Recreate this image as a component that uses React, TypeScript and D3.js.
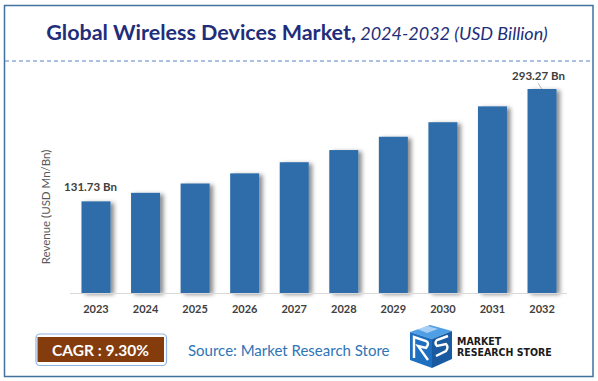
import React from "react";
import * as d3 from "d3";

const years = ["2023", "2024", "2025", "2026", "2027", "2028", "2029", "2030", "2031", "2032"];
const revenue = [131.73, 144.0, 157.4, 172.0, 188.0, 205.5, 224.6, 245.5, 268.3, 293.27];
const labelledYears = ["2023", "2032"];
const labelTexts = ["131.73 Bn", "293.27 Bn"];
const titleBold = "Global Wireless Devices Market,";
const titleItalic = " 2024-2032 (USD Billion)";
const yAxisTitle = "Revenue (USD Mn/Bn)";
const cagrText = "CAGR : 9.30%";
const sourceText = "Source: Market Research Store";
const logoLines = ["MARKET", "RESEARCH STORE"];

const W = 598;
const H = 381;
const FONT = "Lato, 'Open Sans', sans-serif";
const LOGO_FONT = "'Liberation Sans Narrow', 'DejaVu Sans Condensed', Roboto, sans-serif";

export default function App() {
  const x = d3.scaleBand<string>().domain(years).range([71.2, 566.8]).paddingInner(0.415).paddingOuter(0.2075);
  const y = d3.scaleLinear().domain([0, 293.27]).range([293, 89]);
  const bw = x.bandwidth();

  return (
    <svg width={W} height={H} style={{ position: "absolute", left: 0, top: 0, background: "#fff" }} fontFamily={FONT}>
      <defs>
        <filter id="shadow" x="-20%" y="-10%" width="160%" height="130%">
          <feDropShadow dx="3.5" dy="1.5" stdDeviation="2.2" floodColor="#000" floodOpacity="0.45" />
        </filter>
      </defs>
      <rect x={0} y={0} width={W} height={H} fill="#fff" />
      {/* outer border */}
      <rect x={4.5} y={5.5} width={588.5} height={371} fill="none" stroke="#41719c" strokeWidth={1.5} />
      {/* title */}
      <text x={297} y={40} textAnchor="middle" fill="#1f2e7a">
        <tspan fontWeight="bold" fontSize={21.5}>{titleBold}</tspan>
        <tspan fontStyle="italic" fontSize={18}>{titleItalic}</tspan>
      </text>
      {/* dashed separator */}
      <line x1={5} x2={592} y1={61} y2={61} stroke="#8faadc" strokeWidth={1.3} strokeDasharray="4,3" />

      {/* y axis title */}
      <text transform="translate(50,207) rotate(-90)" textAnchor="middle" fontSize={11.5} fill="#595959">{yAxisTitle}</text>

      {/* bars */}
      {years.map((yr, i) => (
        <rect key={yr} x={x(yr)} y={y(revenue[i])} width={bw} height={y(0) - y(revenue[i])} fill="#2e6da9" filter="url(#shadow)" />
      ))}
      {/* axis line */}
      <line x1={70} x2={567} y1={293.5} y2={293.5} stroke="#d9d9d9" strokeWidth={1} />
      {years.map((yr) => (
        <text key={yr} x={(x(yr) as number) + bw / 2} y={313} textAnchor="middle" fontSize={11} fontWeight="bold" fill="#404040">{yr}</text>
      ))}

      {/* data labels */}
      {labelledYears.map((yr, k) => {
        const i = years.indexOf(yr);
        const cx = (x(yr) as number) + bw / 2;
        const top = y(revenue[i]);
        if (k === 0) {
          return (
            <text key={yr} x={cx - 5.5} y={top - 10} textAnchor="middle" fontSize={11.5} fontWeight="bold" fill="#404040">{labelTexts[k]}</text>
          );
        }
        return (
          <g key={yr}>
            <text x={cx - 3.5} y={top - 9} textAnchor="middle" fontSize={11.5} fontWeight="bold" fill="#404040">{labelTexts[k]}</text>
            <line x1={cx - 3.7} y1={top - 5.7} x2={cx - 0.3} y2={top} stroke="#a6a6a6" strokeWidth={0.8} />
          </g>
        );
      })}

      {/* CAGR box */}
      <rect x={36} y={334} width={130.5} height={31.5} rx={4} fill="#fff" stroke="#8fb4e3" strokeWidth={1.2} />
      <rect x={37.5} y={337} width={126.5} height={25} fill="#843c0c" />
      <text x={100.5} y={355.5} textAnchor="middle" fontSize={15.5} fontWeight="bold" fill="#fff">{cagrText}</text>

      {/* source */}
      <text x={188} y={356} fontSize={15} fill="#2e75b6">{sourceText}</text>

      {/* logo */}
      <g>
        <polygon points="410,332 430,325 452,331 432,339" fill="#4f9fe6" />
        <polygon points="410,332 432,339 432,368 410,360" fill="#1f6fc0" />
        <polygon points="432,339 452,331 452,359 432,368" fill="#1a5aa0" />
        <path d="M414,358 L414,337 L426,341 Q430,343 426,348 L418,346 L428,360" fill="none" stroke="#fff" strokeWidth={2.4} />
        <path d="M448,336 L437,340 Q434,343 437,346 L446,344 Q449,347 446,351 L436,356" fill="none" stroke="#fff" strokeWidth={2.4} />
        <polygon points="417,329 428,326 438,329 427,333" fill="#ffffff" opacity={0.5} />
        <text x={457} y={344.5} fontSize={10.5} fontWeight="900" fill="#1a1a1a" fontFamily={LOGO_FONT}>{logoLines[0]}</text>
        <text x={457} y={356} fontSize={10.5} fontWeight="900" fill="#1a1a1a" fontFamily={LOGO_FONT}>{logoLines[1]}</text>
      </g>
    </svg>
  );
}
